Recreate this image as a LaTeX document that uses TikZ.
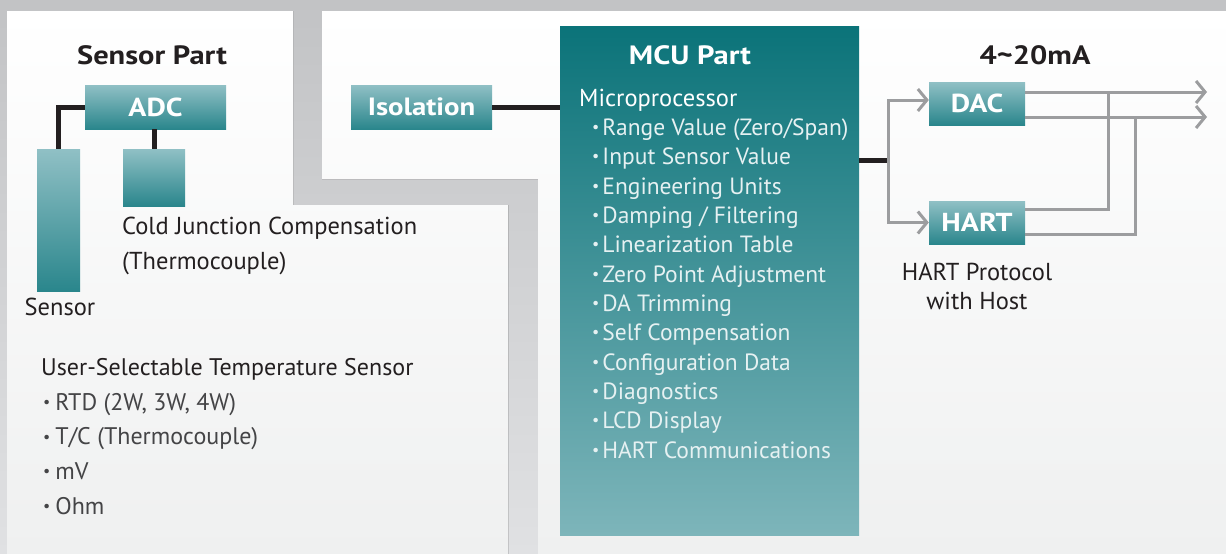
\documentclass[tikz,border=0pt]{standalone}
\usepackage{fontspec}
\setmainfont{PT Sans}[BoldFeatures={FakeStretch=1.15}]
\usetikzlibrary{arrows.meta}

\definecolor{backgray}{HTML}{C2C3C5}
\definecolor{backlight}{HTML}{E0E1E3}
\definecolor{panelgray}{HTML}{EFF0F0}
\definecolor{tealdark}{HTML}{0B7379}
\definecolor{teallight}{HTML}{7DB5BA}
\definecolor{boxtop}{HTML}{90C0C5}
\definecolor{boxbottom}{HTML}{2A868C}
\definecolor{inkblack}{HTML}{231F20}
\definecolor{inkgray}{HTML}{444446}
\definecolor{wiregray}{HTML}{9C9D9F}
\definecolor{itemwhite}{HTML}{E6F1F2}

\newcommand{\listdot}[2]{\hspace*{#1}\raisebox{0.12em}{\fontsize{16}{16}\selectfont\textbullet}\hspace{#2}}
\newcommand{\mcuitem}[1]{{\fontsize{23.5}{29.33}\selectfont\textcolor{itemwhite}{\listdot{13pt}{3pt}#1}}}
\newcommand{\useritem}[1]{\textcolor{inkgray}{\listdot{2pt}{5pt}#1}}

\begin{document}
\begin{tikzpicture}[x=1pt, y=-1pt]
	\tikzstyle{block} = [
		rectangle, inner sep=0pt,
		top color=boxtop, bottom color=boxbottom,
		text=white, font={\bfseries\fontsize{26}{26}\selectfont}];
	\tikzstyle{stick} = [
		rectangle, inner sep=0pt,
		top color=boxtop, bottom color=boxbottom];
	\tikzstyle{mcu} = [
		rectangle, inner sep=0pt,
		top color=tealdark, bottom color=teallight];
	\tikzstyle{title} = [
		inner sep=0pt, text=inkblack,
		font={\bfseries\fontsize{26.5}{26.5}\selectfont}];
	\tikzstyle{caption} = [
		inner sep=0pt, text=inkblack, align=left,
		font={\fontsize{24.5}{35}\selectfont}];
	\tikzstyle{mculist} = [
		inner sep=0pt, text=white, align=left,
		font={\fontsize{24.5}{29.33}\selectfont}];

	\tikzstyle{wire} = [
		line width=5pt, draw=inkblack];
	\tikzstyle{signal} = [
		line width=3pt, draw=wiregray,
		-{Straight Barb[length=9pt,width=22pt]}];
	\tikzstyle{feed} = [
		line width=3pt, draw=wiregray];

	% background and the two panels
	\useasboundingbox (0,0) rectangle (1226,554);
	\fill[top color=backgray, bottom color=backlight] (0,0) rectangle (1226,554);
	\fill[top color=white, bottom color=panelgray]
		(7,11) -- (293,11) -- (293,205) -- (508,205) -- (508,554) -- (7,554) -- cycle;
	\fill[top color=white, bottom color=panelgray]
		(322,11) -- (1226,11) -- (1226,554) -- (538,554) -- (538,179) -- (322,179) -- cycle;

	% sensor part
	\node[title] (sensorpart) at (152,55) {Sensor Part};
	\node[block, minimum width=141pt, minimum height=44pt] (adc) at (155.5,107) {ADC};
	\node[stick, minimum width=43pt, minimum height=142pt] (sensor) at (58.5,220) {};
	\node[stick, minimum width=62pt, minimum height=57pt] (cjc) at (154,177.5) {};
	\node[caption] (sensorlabel) at (60,307) {Sensor};
	\node[caption, anchor=west] (cjclabel) at (122,246)
		{Cold Junction Compensation\\(Thermocouple)};
	\node[caption, anchor=west, font={\fontsize{24}{34.6}\selectfont}] (userlist) at (41,436.5)
		{User-Selectable Temperature Sensor\\
		\useritem{RTD (2W, 3W, 4W)}\\
		\useritem{T/C (Thermocouple)}\\
		\useritem{mV}\\
		\useritem{Ohm}};

	\draw[wire] (adc.west) -| (sensor.north);
	\draw[wire] (adc.south -| cjc.north) -- (cjc.north);

	% MCU part
	\node[block, minimum width=141pt, minimum height=44pt,
		font={\bfseries\fontsize{25}{25}\selectfont}] (iso) at (421.5,107) {Isolation};
	\node[mcu, minimum width=299pt, minimum height=509pt] (mcubox) at (709.5,280.5) {};
	\node[title, text=white] (mcupart) at (690,55) {MCU Part};
	\node[mculist, anchor=north west] (micro) at (579,88.5)
		{Microprocessor\\
		\mcuitem{Range Value (Zero/Span)}\\
		\mcuitem{Input Sensor Value}\\
		\mcuitem{Engineering Units}\\
		\mcuitem{Damping / Filtering}\\
		\mcuitem{Linearization Table}\\
		\mcuitem{Zero Point Adjustment}\\
		\mcuitem{DA Trimming}\\
		\mcuitem{Self Compensation}\\
		\mcuitem{Configuration Data}\\
		\mcuitem{Diagnostics}\\
		\mcuitem{LCD Display}\\
		\mcuitem{HART Communications}};

	\draw[wire] (iso.east) -- (iso.east -| mcubox.west);

	% 4~20mA part
	\node[title] (loopcurrent) at (1035,55) {4\textasciitilde20mA};
	\node[block, minimum width=96pt, minimum height=43pt] (dac) at (977,103.5) {DAC};
	\node[block, minimum width=96pt, minimum height=43pt] (hart) at (977,222.5) {HART};
	\node[caption, align=center, font={\fontsize{24.5}{29}\selectfont}] (hartlabel) at (977,286.5)
		{HART Protocol\\with Host};

	\coordinate (split) at (888,160);
	\coordinate (out1) at (1207,92);
	\coordinate (out2) at (1207,117);
	\coordinate (tap1) at (1108,90.5);
	\coordinate (tap2) at (1135,115.5);

	\draw[wire] (split -| mcubox.east) -- (split);
	\draw[signal] (split) |- ([yshift=3.5pt]dac.west);
	\draw[signal] (split) |- (hart.west);
	\draw[signal] (dac.east |- out1) -- (out1);
	\draw[signal] (dac.east |- out2) -- (out2);
	\draw[feed] ([yshift=13.5pt]hart.east) -| (tap1);
	\draw[feed] ([yshift=-11.5pt]hart.east) -| (tap2);
\end{tikzpicture}
\end{document}
